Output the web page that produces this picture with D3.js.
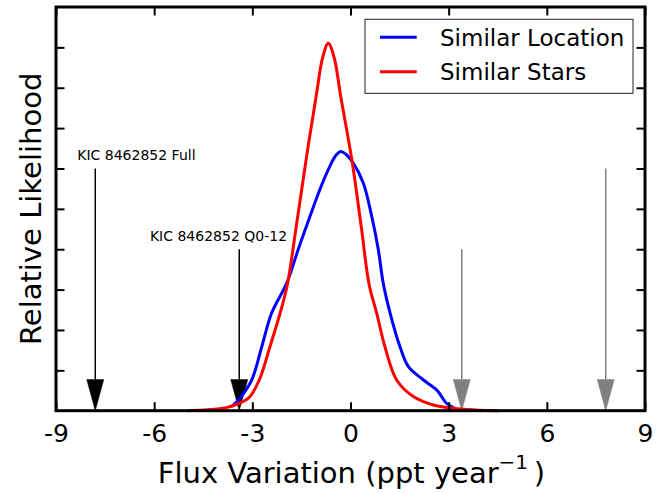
<!DOCTYPE html>
<html>
<head>
<meta charset="utf-8">
<script src="https://cdn.jsdelivr.net/npm/d3@7"></script>
<style>
  html, body { margin: 0; padding: 0; background: #fff; }
  svg { display: block; font-family: "DejaVu Sans", sans-serif; }
</style>
</head>
<body>
<svg id="chart" width="668" height="493"></svg>
<script>
// ---- data ----
const xTickValues = [-9, -6, -3, 0, 3, 6, 9];
const xTickLabels = ["-9", "-6", "-3", "0", "3", "6", "9"];
const yTickValues = [1, 2, 3, 4, 5, 6, 7, 8, 9];

const seriesNames = ["Similar Location", "Similar Stars"];

const locationX = [-3.63, -3.38, -3.02, -2.71, -2.41, -1.95, -1.6, -1.24, -0.95, -0.65, -0.45, -0.3, -0.15, 0.07, 0.39, 0.65, 0.85, 1.0, 1.21, 1.51, 1.77, 2.23, 2.64, 2.94, 3.2];
const locationY = [0.1, 0.31, 0.76, 1.59, 2.42, 3.16, 3.99, 4.81, 5.45, 6.02, 6.32, 6.42, 6.36, 6.15, 5.64, 4.81, 3.99, 3.16, 2.42, 1.59, 1.09, 0.76, 0.51, 0.18, 0.05];

const starsX = [-5.0, -4.5, -4.0, -3.68, -3.12, -2.79, -2.46, -2.15, -1.93, -1.66, -1.31, -1.05, -0.85, -0.68, -0.5, -0.3, 0.04, 0.33, 0.57, 0.8, 1.05, 1.41, 1.92, 2.53, 3.13, 3.8, 4.5];
const starsY = [0.0, 0.02, 0.05, 0.1, 0.31, 0.76, 1.59, 2.42, 3.12, 4.55, 6.47, 7.79, 8.75, 9.1, 8.75, 7.79, 6.22, 4.55, 3.12, 2.42, 1.59, 0.76, 0.35, 0.14, 0.06, 0.02, 0.0];

const arrowX   = [-7.8, -3.4, 3.4, 7.8];
const arrowTop = [6.0, 4.0, 4.0, 6.0];
const arrowKind = ["marked", "marked", "mirror", "mirror"];

const labelText = ["KIC 8462852 Full", "KIC 8462852 Q0-12"];
const labelX = [-8.35, -6.13];
const labelY = [6.2, 4.2];

// ---- layout ----
const svg = d3.select("#chart");
const L = 56, R = 645, T = 7, B = 410.7;
const x = d3.scaleLinear().domain([-9, 9]).range([L, R]);
const y = d3.scaleLinear().domain([0, 10]).range([B, T]);

// arrows (under curves, like matplotlib patches)
const headW = 0.52, headL = 0.77;
const arrowColor = k => k === "marked" ? "#000" : "#808080";
arrowX.forEach((ax, i) => {
  const c = arrowColor(arrowKind[i]);
  svg.append("line")
    .attr("x1", x(ax)).attr("x2", x(ax))
    .attr("y1", y(arrowTop[i])).attr("y2", y(headL))
    .attr("stroke", c).attr("stroke-width", 1.5);
  svg.append("path")
    .attr("d", d3.line()([[x(ax - headW / 2), y(headL)], [x(ax + headW / 2), y(headL)], [x(ax), y(0)]]) + "Z")
    .attr("fill", c).attr("stroke", c).attr("stroke-width", 0.5);
});

// curves
const line = d3.line().x(d => x(d[0])).y(d => y(d[1])).curve(d3.curveCatmullRom.alpha(0.5));
const locPts = locationX.map((v, i) => [v, locationY[i]]);
const starPts = starsX.map((v, i) => [v, starsY[i]]);
svg.append("path").datum(locPts).attr("d", line)
  .attr("fill", "none").attr("stroke", "#0000ff").attr("stroke-width", 3).attr("stroke-linejoin", "round");
svg.append("path").datum(starPts).attr("d", line)
  .attr("fill", "none").attr("stroke", "#ff0000").attr("stroke-width", 3).attr("stroke-linejoin", "round");

// labels
labelText.forEach((t, i) => {
  svg.append("text").attr("x", x(labelX[i])).attr("y", y(labelY[i]))
    .attr("font-size", 14).attr("fill", "#000").text(t);
});

// axes (inward ticks)
const tk = 8.5;
const gB = svg.append("g").attr("transform", `translate(0,${B})`)
  .call(d3.axisBottom(x).tickValues(xTickValues).tickSizeInner(-tk).tickSizeOuter(0)
    .tickPadding(0).tickFormat((d, i) => xTickLabels[i]));
gB.selectAll("text").attr("y", 31).attr("dy", null).attr("font-size", 25).attr("fill", "#000")
  .attr("font-family", "DejaVu Sans");
const gT = svg.append("g").attr("transform", `translate(0,${T})`)
  .call(d3.axisTop(x).tickValues(xTickValues).tickSizeInner(-tk).tickSizeOuter(0).tickFormat(""));
const gL = svg.append("g").attr("transform", `translate(${L},0)`)
  .call(d3.axisLeft(y).tickValues(yTickValues).tickSizeInner(-tk).tickSizeOuter(0).tickFormat(""));
const gR = svg.append("g").attr("transform", `translate(${R},0)`)
  .call(d3.axisRight(y).tickValues(yTickValues).tickSizeInner(-tk).tickSizeOuter(0).tickFormat(""));
[gB, gT, gL, gR].forEach(g => {
  g.select(".domain").remove();
  g.selectAll(".tick line").attr("stroke", "#000").attr("stroke-width", 2);
});

// frame
svg.append("rect").attr("x", L).attr("y", T).attr("width", R - L).attr("height", B - T)
  .attr("fill", "none").attr("stroke", "#000").attr("stroke-width", 3);

// axis titles
const xt = svg.append("text").attr("x", (L + R) / 2 + 1).attr("y", 483).attr("text-anchor", "middle")
  .attr("font-size", 29).attr("fill", "#000");
xt.append("tspan").text("Flux Variation (ppt year");
xt.append("tspan").attr("font-size", 20).attr("dy", -14).text("\u22121");
xt.append("tspan").attr("dy", 14).text("\u2009)");

svg.append("text").attr("transform", `translate(41,${(T + B) / 2}) rotate(-90)`)
  .attr("text-anchor", "middle").attr("font-size", 29).attr("fill", "#000").text("Relative Likelihood");

// legend
const lg = svg.append("g");
lg.append("rect").attr("x", 365).attr("y", 19.3).attr("width", 268).attr("height", 74)
  .attr("fill", "#fff").attr("stroke", "#222").attr("stroke-width", 1);
const legColors = ["#0000ff", "#ff0000"];
seriesNames.forEach((s, i) => {
  const ly = 37.3 + i * 34.4;
  lg.append("line").attr("x1", 380).attr("x2", 416.7).attr("y1", ly).attr("y2", ly)
    .attr("stroke", legColors[i]).attr("stroke-width", 3);
  lg.append("text").attr("x", 440).attr("y", ly + 8.5).attr("font-size", 23).attr("fill", "#000").text(s);
});
</script>
</body>
</html>
